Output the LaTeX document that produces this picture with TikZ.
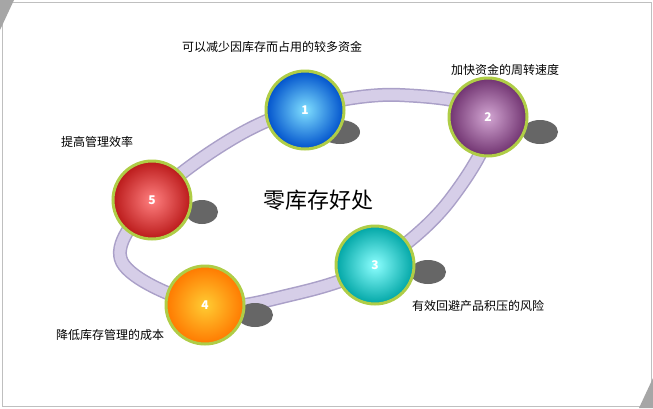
\documentclass[tikz,border=0pt]{standalone}
\usepackage{fontspec}
\setmainfont{Noto Sans CJK SC}
\usetikzlibrary{shadings}
\begin{document}
\begin{tikzpicture}[x=1pt,y=-1pt,
  ball/.style={circle,minimum size=78pt,draw=rimc,line width=3pt,font=\bfseries\large,text=white},
  lbl/.style={font=\fontsize{12}{14}\selectfont},
  shadowc/.style={fill=black!60}]
\definecolor{rimc}{RGB}{175,205,70}
\definecolor{bandc}{RGB}{214,206,232}
\definecolor{bandd}{RGB}{170,160,200}
\useasboundingbox (0,0) rectangle (653,408);
\fill[white] (0,0) rectangle (653,408);
\draw[black!25] (2,2) rectangle (651,406);
\fill[black!35] (0,0) -- (14,0) -- (0,30) -- cycle;
\fill[black!35] (653,408) -- (639,408) -- (653,378) -- cycle;
% band
\draw[bandd,line width=14pt] plot[smooth cycle,tension=0.6] coordinates {(152,200) (230,140) (305,108) (400,95) (488,117) (450,200) (375,265) (290,295) (205,305) (122,262)};
\draw[bandc,line width=11pt] plot[smooth cycle,tension=0.6] coordinates {(152,200) (230,140) (305,108) (400,95) (488,117) (450,200) (375,265) (290,295) (205,305) (122,262)};
% shadows
\fill[shadowc] (340,132) ellipse (20pt and 12pt);
\fill[shadowc] (540,132) ellipse (18pt and 12pt);
\fill[shadowc] (428,272) ellipse (18pt and 12pt);
\fill[shadowc] (255,315) ellipse (18pt and 12pt);
\fill[shadowc] (202,212) ellipse (16pt and 12pt);
% balls
\node[ball,inner color=blue!25!cyan!50,outer color=blue!60!cyan!80!black] (n1) at (305,110) {1};
\node[ball,inner color=violet!35!white,outer color=violet!60!black!80!white] (n2) at (488,117) {2};
\node[ball,inner color=cyan!45!white,outer color=teal!70!cyan] (n3) at (375,265) {3};
\node[ball,inner color=orange!50!yellow!80!white,outer color=orange!95!red] (n4) at (205,305) {4};
\node[ball,inner color=red!50!white,outer color=red!70!black!90!white] (n5) at (152,200) {5};
% texts
\node[lbl] (t1) at (272,47) {可以减少因库存而占用的较多资金};
\node[lbl] (t2) at (505,70) {加快资金的周转速度};
\node[lbl] (t5) at (97,142) {提高管理效率};
\node[font=\fontsize{22}{26}\selectfont] (tc) at (318,200) {零库存好处};
\node[lbl] (t3) at (478,306) {有效回避产品积压的风险};
\node[lbl] (t4) at (110,335) {降低库存管理的成本};
\end{tikzpicture}
\end{document}
